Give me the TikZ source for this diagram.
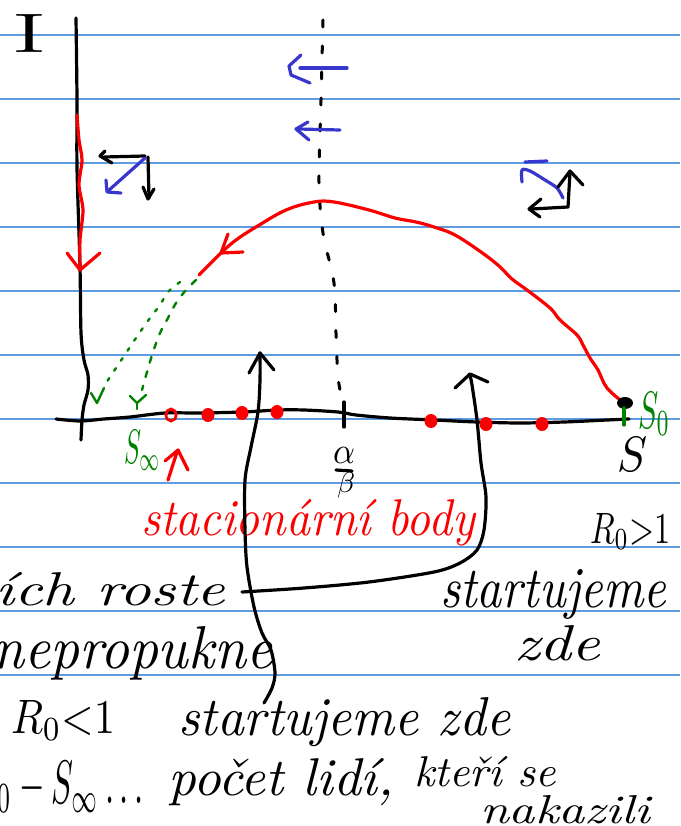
\documentclass[tikz,border=0pt]{standalone}
\usepackage{fontspec}
\usepackage{graphicx}
\definecolor{rulecol}{RGB}{95,155,225}
\definecolor{pred}{RGB}{250,0,0}
\definecolor{pgreen}{RGB}{0,130,0}
\definecolor{pblue}{RGB}{55,55,205}
\newcommand\hw[3]{\resizebox{#1}{#2}{\itshape #3}}
\newcommand\hm[3]{\resizebox{#1}{#2}{#3}}
\begin{document}
\begin{tikzpicture}[x=1pt,y=-1pt,
  pen/.style={line width=3.2pt,line cap=round,line join=round},
  thinpen/.style={line width=2.4pt,line cap=round,line join=round},
  txt/.style={inner sep=0pt,anchor=base west}]
\useasboundingbox (0,0) rectangle (680,826);
\clip (0,0) rectangle (680,826);
\fill[white] (0,0) rectangle (680,826);
% ruled paper
\foreach \y in {35,99,...,675} \draw[rulecol,line width=1.2pt] (0,\y) -- (680,\y);
% axis label I
\node[txt] (ilabel) at (14,53) {\resizebox{30pt}{38pt}{I}};
% vertical axis
\draw[pen] plot[smooth] coordinates {(76,18) (77,100) (77,167) (80,267) (81,333) (84,360) (88,375) (88,390) (84,405) (82,420) (81,440)};
% horizontal axis
\draw[pen] plot[smooth] coordinates {(56,419) (80,421) (104,419) (130,417) (165,413) (199,413) (243,412) (278,410) (304,410) (338,412) (356,415) (390,418) (434,420) (477,422) (520,423) (564,422) (607,420) (629,419)};
\draw[pen] (344,402) -- (344,427);
% dotted vertical line
\draw[pen,line width=3pt,dash pattern=on 7pt off 19pt] plot[smooth] coordinates {(323,20) (321,100) (319,183) (323,233) (334,283) (336,333) (338,377) (343,405)};
% blue arrows on the dotted line
\draw[pblue,pen] (347,68) -- (300,68);
\draw[pblue,pen] (301,55) -- (289,66) -- (291,75) -- (310,83);
\draw[pblue,pen] (340,130) -- (298,129);
\draw[pblue,pen] (308,122) -- (296,129) -- (309,140);
% left small arrows
\draw[pen] (145,156) -- (104,157);
\draw[pen] (105,151) -- (100,156) -- (112,163);
\draw[pen] (148,157) -- (149,198);
\draw[pen] (143,187) -- (148,199) -- (154,189);
\draw[pblue,pen] (145,158) -- (108,191);
\draw[pblue,pen] (106,180) -- (107,192) -- (121,193);
% right small arrows
\draw[pblue,pen] (525,162) -- (547,161);
\draw[pblue,pen] plot[smooth] coordinates {(522,182) (522,170) (530,171) (545,180) (557,188) (563,198)};
\draw[pen] (568,207) -- (570,172);
\draw[pen] (558,187) -- (570,171) -- (583,185);
\draw[pen] (568,207) -- (532,209);
\draw[pen] (541,199) -- (529,209) -- (540,217);
% red trajectory along the I axis
\draw[pred,pen] plot[smooth] coordinates {(77,115) (79,140) (82,160) (79,185) (83,210) (80,240) (80,268)};
\draw[pred,pen] (67,253) -- (80,270) -- (100,253);
% red trajectory (arc)
\draw[pred,pen] plot[smooth,tension=0.6] coordinates {(624,403) (607,388) (598,370) (590,358) (583,345) (577,335) (560,320) (550,308) (527,290) (512,279) (499,266) (481,252) (455,235) (434,227) (416,222) (395,218) (369,210) (334,202) (314,202) (286,210) (256,227) (236,240) (221,253) (199,275)};
\draw[pred,pen] (228,234) -- (221,253) -- (243,252);
% green dashed continuations
\draw[pgreen,thinpen,dash pattern=on 3pt off 9pt] plot[smooth] coordinates {(180,282) (168,292) (160,305) (150,318) (138,335) (126,353) (116,368) (108,380) (103,388)};
\draw[pgreen,thinpen,dash pattern=on 6pt off 9pt] plot[smooth] coordinates {(196,280) (186,290) (176,303) (168,318) (160,333) (153,352) (147,372) (142,390)};
\draw[pgreen,thinpen] (91,393) -- (97,403) -- (104,388);
\draw[pgreen,thinpen] (130,396) -- (137,403) -- (146,395);
\draw[pgreen,thinpen] (137,403) -- (137,409);
% stationary points
\draw[pred,line width=2.8pt] (171,415) ellipse (5pt and 6pt);
\foreach \px/\py in {208/415,242/413,277/412,431/421,486/424,542/424}
  \fill[pred] (\px,\py) ellipse (6.5pt and 7pt);
% S0 point
\fill (625,403) ellipse (8pt and 6pt);
\draw[pgreen,pen] (624,408) -- (624,425);
\node[txt,pgreen] (szero) at (638,428) {\hm{32pt}{36pt}{$S_0$}};
\node[txt] (slabel) at (617,471) {\hm{30pt}{34pt}{$S$}};
\node[txt,pgreen] (sinf) at (124,463) {\hm{37pt}{33pt}{$S_\infty$}};
% alpha over beta
\node[inner sep=0pt] (alpha) at (344,455) {\resizebox{22pt}{16pt}{$\alpha$}};
\node[inner sep=0pt] (beta) at (346,485) {\resizebox{18pt}{20pt}{$\beta$}};
\draw[pen] (336,470) -- (352,471);
% red arrow to S_inf
\draw[pred,pen] (168,480) -- (177,452);
\draw[pred,pen] (165,461) -- (178,450) -- (188,470);
% texts
\node[txt,pred] (stac) at (141,535) {\hw{334pt}{36pt}{stacionární body}};
\node[txt] (rbig) at (590,543) {\hm{80pt}{30pt}{$R_0{>}1$}};
\node[txt] (start1) at (440,607) {\hw{226pt}{38pt}{startujeme}};
\node[txt] (zde1) at (514,660) {\hw{86pt}{35pt}{zde}};
\node[txt] (roste) at (-5,605) {\hw{230pt}{33pt}{ích roste}};
\node[txt] (neprop) at (-8,668) {\hw{280pt}{42pt}{nepropukne}};
\node[txt] (rsmall) at (11,733) {\hm{104pt}{33pt}{$R_0{<}1$}};
\node[txt] (start2) at (178,735) {\hw{332pt}{38pt}{startujeme zde}};
\node[txt] (diff) at (-3,803) {\hm{146pt}{42pt}{${}_0-S_\infty\ldots$}};
\node[txt] (pocet) at (168,795) {\hw{226pt}{37pt}{počet lidí,}};
\node[txt] (kteri) at (414,786) {\hw{142pt}{30pt}{kteří se}};
\node[txt] (nakaz) at (480,823) {\hw{170pt}{28pt}{nakazili}};
% black arrows
\draw[pen] plot[smooth] coordinates {(264,703) (272,688) (275,673) (271,650) (262,633) (254,607) (247,567) (245,530) (245,480) (251,447) (258,412) (260,380) (260,353)};
\draw[pen] (249,373) -- (260,353) -- (274,370);
\draw[pen] plot[smooth] coordinates {(242,592) (304,588) (369,582) (434,572) (460,563) (477,550) (484,530) (486,497) (481,463) (477,420) (472,385) (470,375)};
\draw[pen] (455,388) -- (470,374) -- (488,382);
\end{tikzpicture}
\end{document}
